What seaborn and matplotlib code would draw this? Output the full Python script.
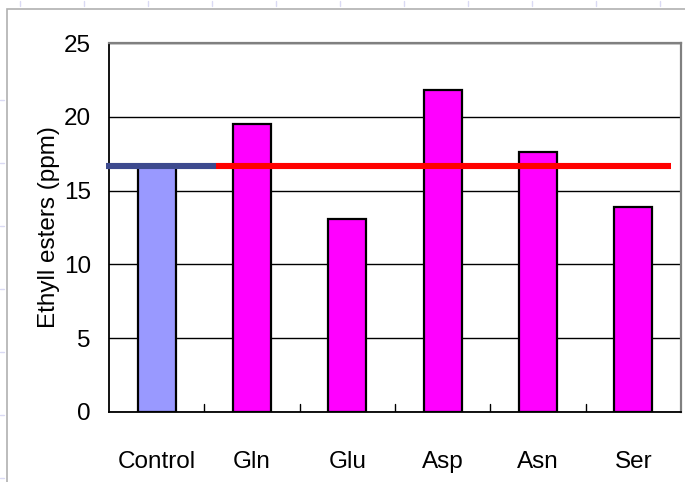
import matplotlib
matplotlib.use("Agg")
import matplotlib.pyplot as plt
import seaborn as sns
import pandas as pd
from matplotlib.lines import Line2D
from matplotlib.patches import Rectangle

# Data
categories = ["Control", "Gln", "Glu", "Asp", "Asn", "Ser"]
ethyl_esters = [16.7, 19.5, 13.1, 21.8, 17.6, 13.9]
y_ticks = [0, 5, 10, 15, 20, 25]

control_colour = "#9999FF"
treatment_colour = "#FF00FF"

sns.set_theme(style="white")
plt.rcParams["font.family"] = ["Liberation Sans", "DejaVu Sans"]
plt.rcParams["text.color"] = "black"
plt.rcParams["axes.labelcolor"] = "black"
plt.rcParams["xtick.color"] = "black"
plt.rcParams["ytick.color"] = "black"

df = pd.DataFrame({"sample": categories, "ppm": ethyl_esters})
palette = {c: (control_colour if c == "Control" else treatment_colour) for c in categories}

fig = plt.figure(figsize=(6.85, 4.82), dpi=100)
fig.patch.set_facecolor("white")

# Slide frame behind the chart
fig.add_artist(Rectangle((7 / 685, -0.01), 1.0, 1 - 9 / 482 + 0.01,
                         transform=fig.transFigure, fill=False,
                         edgecolor="#B0B0B0", linewidth=1.2, zorder=0))
# Faint template marks along the slide edges
for x in range(20, 685, 64):
    fig.add_artist(Line2D([x / 685, x / 685], [1 - 1 / 482, 1 - 6 / 482],
                          transform=fig.transFigure, color="#DADAF4", lw=1.0))
for y in range(100, 482, 63):
    fig.add_artist(Line2D([0, 4 / 685], [1 - y / 482, 1 - y / 482],
                          transform=fig.transFigure, color="#DADAF4", lw=1.0))

ax = fig.add_axes([109 / 685, 1 - 412 / 482, (681 - 109) / 685, (412 - 43) / 482])

sns.barplot(data=df, x="sample", y="ppm", hue="sample", palette=palette,
            order=categories, width=0.4, edgecolor="black", linewidth=1.6,
            saturation=1, legend=False, ax=ax, zorder=3)

# Reference level from the control sample
control_level = ethyl_esters[categories.index("Control")]
ax.plot([-0.53, 0.62], [control_level, control_level], color="#3D4A8E",
        lw=4.4, solid_capstyle="butt", zorder=5, clip_on=False)
ax.plot([0.62, 5.39], [control_level, control_level], color="#FF0000",
        lw=4.4, solid_capstyle="butt", zorder=5, clip_on=False)

ax.set_xlim(-0.5, len(categories) - 0.5)
ax.set_ylim(0, 25)
ax.set_yticks(y_ticks)
ax.set_yticklabels([str(t) for t in y_ticks], fontsize=17.5)
ax.yaxis.grid(True, color="black", linewidth=1.0)
ax.set_axisbelow(True)

ax.set_xlabel("")
ax.set_ylabel("Ethyll esters (ppm)", fontsize=17.5, labelpad=3)
ax.tick_params(axis="x", labelsize=17.5, length=0, pad=28)
ax.tick_params(axis="y", length=0, pad=13)

# Category separators on the baseline
for b in range(1, len(categories)):
    ax.plot([b - 0.5, b - 0.5], [0, 0.55], color="black", lw=1.0, zorder=4)

for side in ["left", "bottom"]:
    ax.spines[side].set_color("black")
    ax.spines[side].set_linewidth(1.3)
for side in ["top", "right"]:
    ax.spines[side].set_color("#808080")
    ax.spines[side].set_linewidth(1.6)

fig.savefig("out.png", dpi=100, facecolor="white")
